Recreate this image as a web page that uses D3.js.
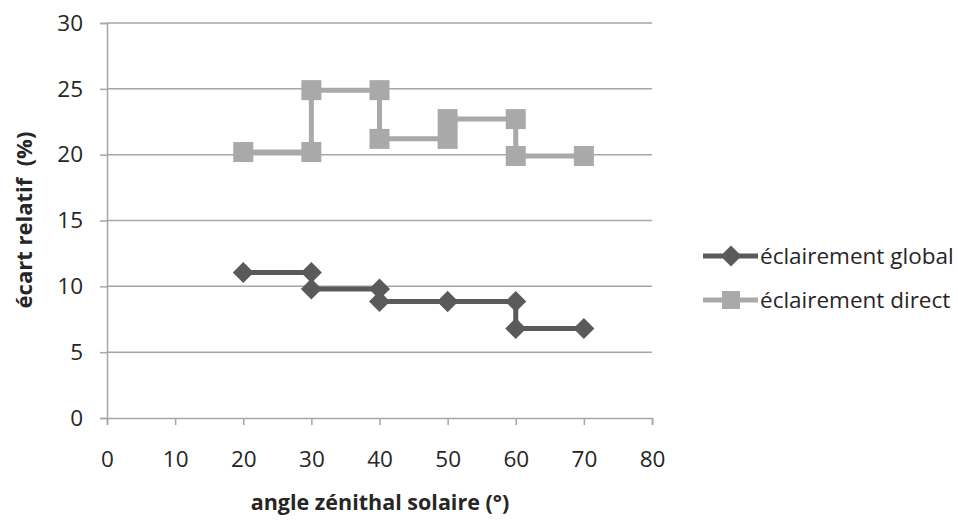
<!DOCTYPE html>
<html><head><meta charset="utf-8">
<script src="https://cdn.jsdelivr.net/npm/d3@7"></script>
<style>body{margin:0;background:#fff;} svg{display:block;}</style>
</head><body>
<svg id="c" width="958" height="522"></svg>
<script>
const angles = [20, 30, 30, 40, 40, 50, 50, 60, 60, 70];
const globalVals = [11.05, 11.05, 9.8, 9.8, 8.85, 8.85, 8.85, 8.85, 6.8, 6.8];
const directVals = [20.2, 20.2, 24.9, 24.9, 21.2, 21.2, 22.7, 22.7, 19.9, 19.9];
const xTicks = [0, 10, 20, 30, 40, 50, 60, 70, 80];
const yTicks = [0, 5, 10, 15, 20, 25, 30];
const seriesNames = ["éclairement global", "éclairement direct"];

const svg = d3.select("#c");
const font = "'Open Sans', sans-serif";
const L = 107, R = 652, T = 23, B = 418;
const x = d3.scaleLinear().domain([0, 80]).range([L, R]);
const y = d3.scaleLinear().domain([0, 30]).range([B, T]);
const gridCol = "#a6a6a6";
const textCol = "#262626";

// gridlines
svg.append("g").selectAll("line").data(yTicks.filter(d => d > 0)).join("line")
  .attr("x1", L).attr("x2", R).attr("y1", d => y(d)).attr("y2", d => y(d))
  .attr("stroke", gridCol).attr("stroke-width", 1.5);

// axes
const gx = svg.append("g").attr("transform", `translate(0,${B})`)
  .call(d3.axisBottom(x).tickValues(xTicks).tickSize(7).tickPadding(26));
const gy = svg.append("g").attr("transform", `translate(${L},0)`)
  .call(d3.axisLeft(y).tickValues(yTicks).tickSize(7).tickPadding(17));
[gx, gy].forEach(g => {
  g.select(".domain").attr("stroke", gridCol).attr("stroke-width", 1.5);
  g.selectAll(".tick line").attr("stroke", gridCol).attr("stroke-width", 1.5);
  g.selectAll(".tick text").attr("font-family", font).attr("font-size", 22.5).attr("fill", textCol);
});

const series = [
  {name: seriesNames[0], vals: globalVals, color: "#5a5a5a", square: false, size: 10.5},
  {name: seriesNames[1], vals: directVals, color: "#a9a9a9", square: true, size: 20}
];
// draw direct first then global
[series[1], series[0]].forEach(s => {
  const pts = angles.map((a, i) => [a, s.vals[i]]);
  svg.append("path").datum(pts)
    .attr("d", d3.line().x(d => x(d[0])).y(d => y(d[1])))
    .attr("fill", "none").attr("stroke", s.color).attr("stroke-width", 5);
  const g = svg.append("g");
  pts.forEach(d => {
    const cx = x(d[0]), cy = y(d[1]);
    if (s.square) {
      g.append("rect").attr("x", cx - s.size/2).attr("y", cy - s.size/2)
        .attr("width", s.size).attr("height", s.size).attr("fill", s.color);
    } else {
      const h = s.size;
      g.append("path").attr("d", `M${cx},${cy-h}L${cx+h},${cy}L${cx},${cy+h}L${cx-h},${cy}Z`)
        .attr("fill", s.color);
    }
  });
});

// legend
const lg = svg.append("g");
series.forEach((s, i) => {
  const ly = 256 + i * 44;
  lg.append("line").attr("x1", 703).attr("x2", 758).attr("y1", ly).attr("y2", ly)
    .attr("stroke", s.color).attr("stroke-width", 5);
  const cx = 731;
  if (s.square) {
    lg.append("rect").attr("x", cx - 9).attr("y", ly - 9).attr("width", 18).attr("height", 18).attr("fill", s.color);
  } else {
    const h = 10.5;
    lg.append("path").attr("d", `M${cx},${ly-h}L${cx+h},${ly}L${cx},${ly+h}L${cx-h},${ly}Z`).attr("fill", s.color);
  }
  lg.append("text").attr("x", 760).attr("y", ly).attr("dy", "0.35em")
    .attr("font-family", font).attr("font-size", 22.5).attr("fill", textCol).text(s.name);
});

// axis titles
svg.append("text").attr("x", 380).attr("y", 510).attr("text-anchor", "middle")
  .attr("font-family", font).attr("font-size", 21.5).attr("font-weight", "bold").attr("fill", textCol)
  .text("angle zénithal solaire (°)");
svg.append("text").attr("transform", "translate(32,220) rotate(-90)").attr("text-anchor", "middle")
  .attr("font-family", font).attr("font-size", 22).attr("font-weight", "bold").attr("fill", textCol)
  .style("white-space", "pre")
  .text("écart relatif  (%)");
</script>
</body></html>
